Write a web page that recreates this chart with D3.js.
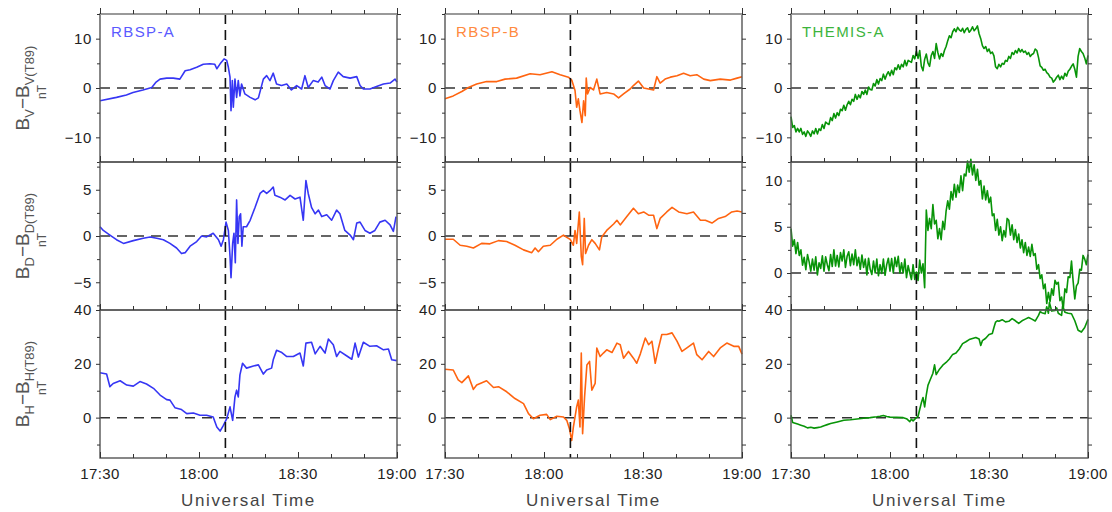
<!DOCTYPE html>
<html>
<head>
<meta charset="utf-8">
<script src="https://cdn.jsdelivr.net/npm/d3@7"></script>
<style>
  body { margin: 0; background: #fff; }
  svg { display: block; }
  text { font-family: "Liberation Sans", Arial, sans-serif; }
</style>
</head>
<body>
<svg id="chart" width="1112" height="512"></svg>
<script>
// Magnetic field residuals (observed minus T89 model), nT, 17:30-19:00 UT.
// Times are minutes after 17:30.
const spacecraft = ["RBSP-A", "RBSP-B", "THEMIS-A"];
const components = ["V", "D", "H"];
const timeTicks = [0, 30, 60, 90];
const timeTickLabels = ["17:30", "18:00", "18:30", "19:00"];
const minorTimeTicks = [10, 20, 40, 50, 70, 80];
const eventTime = 38; // 18:08 UT

const rbspA_Bv = [[0,-2.6],[5,-1.9],[8,-1.4],[10,-0.9],[13,-0.4],[15.7,0.1],[17,1.2],[18.2,1.8],[20.2,2.0],[22.2,2.0],[24.2,1.8],[25.8,3.5],[27.3,3.7],[29.3,4.2],[31.3,4.8],[33.3,4.9],[34.8,4.8],[35.4,3.9],[36.4,4.9],[37.6,5.9],[38.4,5.6],[38.9,4.2],[39.4,2.2],[39.7,-4.6],[40.1,1.5],[40.4,-3.9],[40.9,1.8],[41.4,-1.9],[41.9,1.5],[42.4,-1.6],[42.9,0.8],[43.9,-1.2],[45.5,-1.9],[47,-2.4],[48,-2.0],[49.5,1.8],[50.5,2.5],[51.5,1.5],[52.5,3.0],[53.5,0.8],[55,0.5],[56.6,0.8],[58,-0.4],[59.6,0.5],[61.1,-0.2],[62.1,2.5],[63.1,0.1],[64.6,1.5],[66.1,1.2],[67.2,2.2],[68.2,0.5],[69.7,-0.2],[70.7,1.5],[72.2,3.2],[73.7,2.3],[75.8,2.0],[77.8,2.3],[78.8,0.5],[79.8,-0.2],[81.8,-0.2],[83.8,0.3],[85.9,0.8],[87.9,1.0],[89.4,1.8],[90,1.2]];
const rbspA_Bd = [[0,1.0],[1,0.6],[3,0.1],[5,-0.4],[7.1,-0.8],[10.1,-0.5],[13.1,-0.25],[15.2,-0.1],[17.2,-0.25],[19.2,-0.4],[21.2,-0.8],[23.2,-1.3],[24.7,-1.9],[25.8,-1.8],[27.3,-1.1],[29.3,-0.6],[30.8,0],[32.3,-0.1],[34.3,0.3],[35.9,-0.4],[36.7,-1.1],[37.4,-0.4],[38.2,1.5],[38.9,0.6],[39.4,-2.2],[39.7,-4.5],[40.2,-0.8],[40.6,0.3],[41,-2.9],[41.4,3.9],[41.8,-0.8],[42.2,2.1],[42.6,2.4],[43,-1.1],[43.4,1.0],[44.4,1.0],[45.5,1.7],[47,3.1],[48.5,4.6],[49.5,4.9],[50.5,4.6],[51.5,4.9],[52.5,5.3],[53,4.4],[54.5,4.2],[56.1,3.9],[57.6,4.4],[59.1,4.0],[60.6,4.2],[61.6,1.7],[62.4,6.0],[63.1,4.6],[64.1,3.1],[65.2,2.4],[66.2,2.8],[67.2,2.1],[68.7,2.3],[70.2,1.7],[71.7,2.8],[72.7,2.4],[74.2,0.6],[75.8,0.1],[76.8,-0.4],[77.8,1.4],[78.8,1.5],[80.3,0.6],[81.8,0.3],[83.3,0.6],[84.8,1.5],[86.4,1.7],[87.9,1.2],[88.9,0.5],[89.7,2.1]];
const rbspA_Bh = [[0,16.7],[2,16.2],[3,11.5],[4,12.7],[6.1,13.7],[8.1,12.1],[10.1,11.7],[12.1,13.4],[14.1,12.5],[16.2,10.9],[18.2,8.4],[20.2,6.7],[21.2,6.5],[22.7,3.7],[24.7,3.0],[26.3,1.5],[28.3,1.7],[30.3,0.9],[32.3,0.9],[34.3,0.2],[35.4,-3.5],[36.4,-5],[37.4,-2.9],[38.4,-0.4],[39.4,4],[40.2,-1],[40.9,7.7],[41.4,10.2],[41.9,7.7],[42.4,15.9],[43.2,20.2],[44.4,18.4],[46.5,19.2],[48,19.6],[49.5,16.2],[50.5,17.7],[52,18.4],[52.5,21.5],[53.5,25],[55.1,24.2],[56.6,22.7],[58.6,22.7],[60.6,24],[61.6,19.2],[62.4,27.7],[64.1,28],[65.2,23.7],[66.7,26.5],[68.2,24],[69.2,29.2],[70.7,27.1],[71.7,22.7],[72.7,24.6],[74.7,23],[76.3,21.7],[77.3,27.7],[78.3,22.5],[79.8,28],[81.8,26.5],[83.8,26.7],[85.9,25.2],[87.4,25.5],[88.4,21.5],[89.9,21.2]];

const rbspB_Bv = [[0,-2.2],[2.5,-1.6],[5.1,-0.7],[7.1,0.1],[9.6,0.8],[12.6,1.3],[15.7,1.3],[18.2,1.8],[21.7,2.0],[25.8,2.9],[28.8,2.7],[32.4,3.3],[34.9,2.7],[37.4,2.2],[38.4,1.6],[39.4,-0.5],[39.9,-3.9],[40.4,-2.2],[40.9,-4.6],[41.5,-7.0],[42,-2.6],[42.5,-5.6],[42.8,2.0],[43.2,-1.2],[44,0.1],[45,-0.4],[46,1.8],[47,-1.2],[49,-0.9],[51.1,-1.2],[52.6,-2.0],[54.1,-1.2],[56.1,-0.2],[57.1,0.5],[58.6,1.4],[60.2,0],[61.7,-0.2],[63.2,-0.4],[64.2,2.3],[65.2,1.0],[66.7,1.8],[68.3,2.2],[70.3,2.5],[72.3,3.0],[74.3,2.5],[76.3,2.7],[78.4,1.8],[80.4,1.5],[83.4,1.8],[86.5,1.6],[88.5,2.0],[90,2.3]];
const rbspB_Bd = [[0,-0.35],[2.5,-0.35],[4.6,-1.0],[6.6,-1.1],[8.6,-1.3],[11.1,-0.8],[13.6,-0.85],[16.2,-0.5],[18.7,-0.6],[21.2,-1.0],[23.8,-1.5],[26.3,-1.8],[27.3,-1.3],[28.3,-1.7],[29.8,-1.1],[31.9,-1.0],[33.9,-0.35],[35.9,0.1],[36.9,-0.15],[37.9,-0.35],[38.9,-1.0],[39.4,0.6],[39.9,-0.8],[40.7,2.6],[41.3,-2.2],[41.7,-3.1],[42.2,1.9],[42.6,-1.9],[43.5,-1.0],[44.5,-0.4],[45.5,-0.8],[46.8,-1.5],[47.5,-0.1],[49,0.6],[51.1,1.3],[52.1,1.7],[53.1,1.2],[55.1,2.1],[57.1,3.0],[58.6,2.4],[60.2,2.6],[61.7,2.25],[63.2,2.25],[64.2,0.8],[65.2,1.9],[67.2,2.6],[68.8,3.1],[70.8,2.6],[73.3,2.4],[75.3,2.6],[77.4,1.7],[78.9,1.7],[80.9,1.4],[82.9,1.9],[84.9,2.1],[86.9,2.6],[88.5,2.7],[90,2.6]];
const rbspB_Bh = [[0,18],[2.5,17.7],[4,14],[5.1,13],[7.1,15.5],[8.6,10.5],[9.6,12.1],[12.6,13.7],[14.7,11.2],[16.2,11.5],[18.7,9.6],[21.2,7.1],[23.8,5.2],[25.3,1.5],[26.8,-0.4],[28.8,0.9],[30.8,1.2],[31.9,-0.75],[33.9,0.5],[35.9,0.25],[36.9,-1],[37.7,-4.1],[38.4,-8.5],[38.9,-3.5],[39.9,4],[40.4,6.5],[40.9,-3.5],[41.3,24],[41.7,-6],[42.3,7.8],[43,19.6],[43.8,20.9],[44.5,10.2],[45.5,12.7],[46,25.9],[47,22.7],[48,24],[49,25.2],[50.6,24.2],[52.1,27.7],[53.1,27.1],[54.1,22.1],[55.6,24.6],[57.1,22.1],[58.1,20.2],[59.2,23.7],[60.7,29.6],[61.7,27.1],[62.7,28.4],[63.7,20.2],[64.7,25.9],[65.7,30.9],[67.2,30.9],[68.8,31.5],[70.3,28.4],[71.8,24.6],[73.3,25.9],[75.3,27.7],[76.3,23.4],[77.9,21.5],[79.9,24.6],[81.4,22.7],[83.4,25.9],[85.4,27.7],[87.5,26.5],[89,26.5],[90,23.6]];

// THEMIS-A samples at a fixed 0.5-minute cadence starting at 17:30
const themisCadence = 0.5;
const themA_Bv = [-5.8,-8.0,-7.6,-8.9,-8.2,-8.9,-8.2,-9.4,-8.9,-9.8,-8.7,-9.15,-9.8,-8.7,-9.3,-8.2,-9.3,-8.3,-8.6,-7.4,-8.2,-6.9,-7.2,-7.4,-6.0,-6.6,-5.2,-6.1,-5.0,-5.6,-4.3,-4.6,-3.5,-4.5,-3.4,-2.7,-3.4,-2.3,-2.7,-1.3,-2.3,-1.4,-2.0,-0.7,-1.3,-0.4,-1.3,0.2,-0.3,-0.4,0.9,0.4,1.7,0.8,1.9,1.5,2.8,1.8,2.7,3.3,2.5,3.6,2.7,4.1,3.7,4.7,3.8,4.8,4.3,5.6,4.5,5.6,5.4,5.2,6.6,5.9,7.4,6.0,7.6,4.4,3.5,5.8,6.9,5.1,4.4,6.6,7.4,6.0,9.0,7.2,5.9,7.0,6.4,7.6,8.4,9.6,10.6,10.2,11.4,12.0,11.4,12.3,11.8,11.5,12.1,11.2,11.9,12.2,11.3,11.7,12.4,11.6,12.0,12.6,11.0,10.0,8.6,8.0,8.4,7.4,7.9,7.0,7.3,6.5,4.3,3.9,4.8,4.3,5.0,4.8,5.6,5.4,6.4,6.0,7.2,6.8,7.6,7.1,8.0,7.3,7.8,7.2,7.5,6.8,7.2,6.4,6.8,7.0,7.9,7.6,6.2,4.5,4.2,3.6,3.8,3.1,2.8,2.2,2.0,1.2,1.6,2.2,2.6,1.7,2.4,1.8,3.0,2.4,3.4,3.8,4.4,4.9,3.8,2.2,6.4,8.0,7.4,7.0,6.1,4.9,6.6];
const themA_Bd = [4.8,2.9,3.6,2.1,3.3,1.9,2.5,0.85,1.7,0.35,2.0,1.2,0.2,1.5,0.3,1.75,-0.2,1.1,0.5,1.85,0.2,1.75,0.9,0.25,2.0,0.7,2.5,0.75,1.9,0.65,2.2,1.3,2.5,0.6,1.8,2.3,0.8,2.05,0.9,2.5,0.8,1.7,0.4,1.95,0.6,1.5,-0.2,1.6,0.4,-0.15,1.3,0.0,1.5,-0.3,0.9,-0.05,1.5,-0.25,0.9,1.6,0.2,1.55,0.0,1.7,0.7,1.8,0.0,1.1,0.0,1.5,-0.5,0.8,0.0,-0.7,0.9,-0.7,0.1,-0.8,1.4,0.0,1.0,-1.6,6.8,4.6,5.9,4.8,7.4,5.3,5.7,3.7,4.8,3.6,5.6,4.7,6.7,7.8,6.9,8.8,7.9,9.6,8.2,9.5,8.7,10.5,8.9,10.7,10.5,12.1,10.9,12.3,10.6,11.7,10.0,11.2,9.5,10.0,8.0,9.4,7.9,8.9,7.6,8.2,6.2,6.4,4.6,5.8,4.1,5.0,3.5,4.6,3.9,5.9,5.7,4.1,5.2,3.6,4.7,3.3,4.2,2.7,3.6,2.2,3.3,1.9,2.8,1.8,3.1,1.9,2.1,0.4,0.9,-0.6,-0.2,-1.7,-1.2,-3.3,-2.1,-3.1,-1.7,-2.4,-0.8,-1.2,-1.0,-3.0,-2.6,-3.9,-1.7,-2.1,-0.4,-0.5,1.3,-0.9,-2.8,-1.4,-1.1,0.4,0.3,1.9,1.5,0.9,2.0];
const themA_Bh = [[0,0.9],[0.5,-1.8],[1,-2.0],[2,-2.4],[3,-2.8],[4,-3.2],[5,-3.8],[6,-3.6],[7,-3.9],[8,-3.7],[9,-3.5],[10,-3.0],[11,-2.6],[12,-2.2],[14,-1.6],[16,-1.0],[18,-0.8],[20,-0.5],[22,-0.2],[24,0.0],[26,0.3],[27,0.5],[28,0.8],[29,0.4],[30,0.2],[32,0.1],[34,0.0],[35,-0.4],[36,-1.5],[36.5,-0.6],[37,-1.2],[38,0.0],[38.5,0.5],[39,3.0],[39.5,5.5],[40,7.5],[40.5,4.0],[41,8.5],[41.5,12.0],[42,13.5],[42.5,15.0],[43,16.5],[43.5,19.6],[44,16.0],[45,18.0],[46,19.5],[47,20.5],[48,21.8],[49,23.5],[50,24.0],[51,25.5],[52,27.5],[53,28.2],[54,29.0],[55,29.4],[56,29.8],[57,29.2],[57.5,26.8],[58,28.6],[59,29.5],[60,30.9],[61,31.3],[61.5,33.5],[62,35.5],[62.5,36.0],[63,35.8],[64,36.4],[65,35.6],[66,35.8],[67,36.8],[68,36.0],[69,35.0],[70,36.0],[71,36.6],[72,37.2],[73,36.6],[74,35.9],[75,38.0],[75.5,39.4],[76,39.0],[77,38.6],[77.5,41.2],[78,38.8],[78.3,42.8],[79,39.6],[80,39.8],[80.5,40.8],[81,38.8],[82,38.0],[82.3,41.5],[83,39.2],[84,38.8],[85,38.6],[86,36.0],[87,32.5],[88,31.8],[89,33.5],[90,36.5]];

const toPairs = vals => vals.map((v, i) => [i * themisCadence, v]);

// rows: Bv, Bd, Bh ; columns: RBSP-A, RBSP-B, THEMIS-A
const panelData = [
  [rbspA_Bv, rbspB_Bv, toPairs(themA_Bv)],
  [rbspA_Bd, rbspB_Bd, toPairs(themA_Bd)],
  [rbspA_Bh, rbspB_Bh, themA_Bh]
];
const yDomains = [
  [[-15, 15], [-15, 15], [-15, 15]],
  [[-8, 8], [-8, 8], [-4, 12]],
  [[-15, 40], [-15, 40], [-15, 40]]
];
const yMajor = [
  [[-10, 0, 10], [-10, 0, 10], [-10, 0, 10]],
  [[-5, 0, 5], [-5, 0, 5], [0, 5, 10]],
  [[0, 20, 40], [0, 20, 40], [0, 20, 40]]
];
const yMinor = [
  [[-15, -5, 5, 15], [-15, -5, 5, 15], [-15, -5, 5, 15]],
  [[-7.5, -2.5, 2.5, 7.5], [-7.5, -2.5, 2.5, 7.5], [-2.5, 2.5, 7.5]],
  [[-10, 10, 30], [-10, 10, 30], [-10, 10, 30]]
];

const lineColors = ["#3636f4", "#ff6410", "#089408"];
const titleColors = ["#5a5aff", "#ff8a40", "#3cb43c"];

// layout
const colX = [100, 445, 791];
const rowY = [14, 162, 310];
const W = 297, H = 148;

const svg = d3.select("#chart");
const fmt = d3.format("d");

for (let r = 0; r < 3; r++) {
  for (let c = 0; c < 3; c++) {
    const x = d3.scaleLinear().domain([0, 90]).range([colX[c], colX[c] + W]);
    const y = d3.scaleLinear().domain(yDomains[r][c]).range([rowY[r] + H, rowY[r]]);
    const g = svg.append("g");

    // zero reference
    g.append("line")
      .attr("x1", x(0)).attr("x2", x(90)).attr("y1", y(0)).attr("y2", y(0))
      .attr("stroke", "#333").attr("stroke-width", 1.5).attr("stroke-dasharray", "10,7");

    // residual trace
    g.append("path")
      .datum(panelData[r][c])
      .attr("fill", "none")
      .attr("stroke", lineColors[c])
      .attr("stroke-width", 1.6)
      .attr("stroke-linejoin", "round")
      .attr("d", d3.line().x(d => x(d[0])).y(d => y(d[1])));

    // event onset marker
    g.append("line")
      .attr("x1", x(eventTime)).attr("x2", x(eventTime))
      .attr("y1", rowY[r]).attr("y2", rowY[r] + H)
      .attr("stroke", "#111").attr("stroke-width", 1.6).attr("stroke-dasharray", "10,6");

    // frame
    g.append("rect")
      .attr("x", colX[c]).attr("y", rowY[r]).attr("width", W).attr("height", H)
      .attr("fill", "none").attr("stroke", "#555").attr("stroke-width", 1.4);
    if (r === 0) {
      g.append("line").attr("x1", colX[c]).attr("x2", colX[c] + W)
        .attr("y1", rowY[r]).attr("y2", rowY[r])
        .attr("stroke", "#999").attr("stroke-width", 1.8);
    }

    // time ticks (bottom and top edges)
    const bottom = y.range()[0], top = y.range()[1];
    const tickAxis = (axis, vals, size, ty) => {
      const a = g.append("g").attr("transform", `translate(0,${ty})`)
        .call(axis(x).tickValues(vals).tickSize(size).tickFormat(""));
      a.select(".domain").remove();
      a.selectAll("line").attr("stroke", "#333");
    };
    tickAxis(d3.axisBottom, timeTicks, -6, bottom);
    tickAxis(d3.axisBottom, minorTimeTicks, -4, bottom);
    tickAxis(d3.axisTop, timeTicks, 6, top);
    tickAxis(d3.axisTop, minorTimeTicks, 4, top);

    // field ticks, left with labels, right without
    const left = g.append("g").attr("transform", `translate(${colX[c]},0)`)
      .call(d3.axisLeft(y).tickValues(yMajor[r][c]).tickSize(4).tickPadding(4).tickFormat(fmt));
    left.select(".domain").remove();
    left.selectAll("line").attr("stroke", "#333");
    left.selectAll("text").attr("font-size", 15).attr("fill", "#222")
      .attr("font-family", '"Liberation Sans", Arial, sans-serif').attr("letter-spacing", 0.6);
    const leftMinor = g.append("g").attr("transform", `translate(${colX[c]},0)`)
      .call(d3.axisLeft(y).tickValues(yMinor[r][c]).tickSize(3).tickFormat(""));
    leftMinor.select(".domain").remove();
    leftMinor.selectAll("line").attr("stroke", "#333");

    const right = g.append("g").attr("transform", `translate(${colX[c] + W},0)`)
      .call(d3.axisRight(y).tickValues(yMajor[r][c].concat(yMinor[r][c])).tickSize(4).tickFormat(""));
    right.select(".domain").remove();
    right.selectAll("line").attr("stroke", "#333");

    // spacecraft name
    if (r === 0) {
      g.append("text")
        .attr("x", colX[c] + 11).attr("y", rowY[r] + 23)
        .attr("font-size", 15).attr("letter-spacing", 1.4)
        .attr("fill", titleColors[c]).text(spacecraft[c]);
    }

    // time labels
    if (r === 2) {
      timeTicks.forEach((t, i) => {
        g.append("text")
          .attr("x", x(t)).attr("y", bottom + 21)
          .attr("text-anchor", "middle").attr("font-size", 15).attr("letter-spacing", 0.4)
          .attr("fill", "#222").text(timeTickLabels[i]);
      });
      g.append("text")
        .attr("x", colX[c] + W / 2).attr("y", bottom + 48)
        .attr("text-anchor", "middle").attr("font-size", 17).attr("letter-spacing", 1.6)
        .attr("fill", "#444").text("Universal Time");
    }
  }
}

// vertical axis titles
components.forEach((comp, r) => {
  const cy = rowY[r] + H / 2;
  const t = svg.append("text")
    .attr("transform", `translate(29,${cy}) rotate(-90)`)
    .attr("text-anchor", "middle").attr("font-size", 19).attr("fill", "#555");
  t.append("tspan").text("B");
  t.append("tspan").attr("font-size", 13).attr("dy", 5).text(comp);
  t.append("tspan").attr("dy", -5).text("\u2212");
  t.append("tspan").text("B");
  t.append("tspan").attr("font-size", 13).attr("dy", 5).text(comp + "(T89)");
  svg.append("text")
    .attr("transform", `translate(46,${cy + 4}) rotate(-90)`)
    .attr("text-anchor", "middle").attr("font-size", 12).attr("fill", "#555").text("nT");
});
</script>
</body>
</html>
